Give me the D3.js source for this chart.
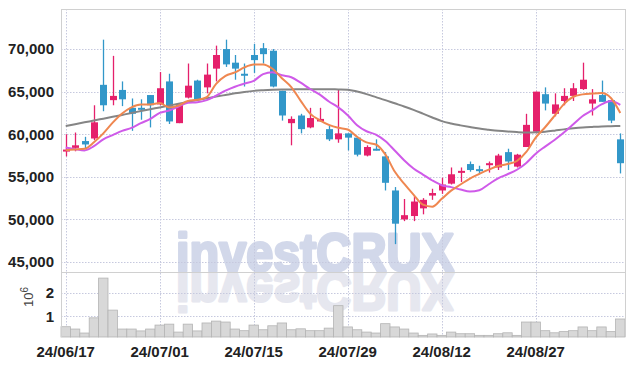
<!DOCTYPE html>
<html><head><meta charset="utf-8">
<script src="https://cdn.jsdelivr.net/npm/d3@7"></script>
<style>
body{margin:0;background:#fff}
svg{display:block}
text{font-family:"Liberation Sans Narrow","Liberation Sans",Arial,sans-serif}
</style>
</head><body>
<svg id="chart" width="634" height="366"></svg>
<script>
// ---- data ----
const dates = [
  "24/06/17","24/06/18","24/06/19","24/06/20","24/06/21","24/06/24","24/06/25","24/06/26","24/06/27","24/06/28",
  "24/07/01","24/07/02","24/07/03","24/07/04","24/07/05","24/07/08","24/07/09","24/07/10","24/07/11","24/07/12",
  "24/07/15","24/07/16","24/07/17","24/07/18","24/07/19","24/07/22","24/07/23","24/07/24","24/07/25","24/07/26",
  "24/07/29","24/07/30","24/07/31","24/08/01","24/08/02","24/08/05","24/08/06","24/08/07","24/08/08","24/08/09",
  "24/08/12","24/08/13","24/08/14","24/08/16","24/08/19","24/08/20","24/08/21","24/08/22","24/08/23","24/08/26",
  "24/08/27","24/08/28","24/08/29","24/08/30","24/09/02","24/09/03","24/09/04","24/09/05","24/09/06","24/09/09"
];
const open = [
  58100,58400,59200,59500,65800,64000,65200,63100,63100,64600,
  63500,66200,61300,64300,66300,65500,67700,70000,68400,67100,
  69300,70100,69800,65100,61300,62200,60800,61500,60600,59400,
  60100,59600,57500,58300,57400,53400,50000,50400,51300,52800,
  53400,54200,55500,56500,55900,56400,56100,57900,56200,58500,
  60300,64700,62400,63900,64500,65300,63600,64600,64000,59400
];
const high = [
  60000,60200,59700,63400,71100,69200,66200,64200,64100,64600,
  67300,67100,63600,68300,66400,68300,70400,71100,69300,68300,
  70600,70700,70000,65100,62100,62400,63100,63100,61100,65300,
  60100,59700,58700,59400,57900,53800,52400,52700,52500,53600,
  54900,56100,56100,56800,56300,56800,57700,58300,57700,62400,
  65000,65500,64800,65400,66000,68400,65300,66300,64000,60100
];
const low = [
  57400,58000,58300,59300,62700,63400,63300,60400,61700,60800,
  63400,61200,61300,64200,64000,64800,66200,67900,66400,65600,
  67200,68300,65500,61600,58700,60100,60700,61500,59200,59000,
  58100,57400,57400,58100,53400,47100,49800,49800,50600,52300,
  53000,54100,54400,55600,55300,55500,55800,55800,56100,58500,
  60100,62800,62100,63400,63900,65200,62200,63800,61300,55400
];
const close = [
  58200,58700,58800,61400,63400,64500,64100,62400,63000,63400,
  65400,61500,63500,65700,64100,67000,69300,68200,67700,67000,
  68700,69400,65600,62200,61800,60600,61900,61800,59400,60100,
  59600,57600,58500,58200,54300,49500,50500,52100,52300,53100,
  54100,55300,55700,55800,55800,56600,57500,56800,57600,61100,
  65000,63600,63500,64500,65400,66400,64100,63800,61600,56600
];
const volume = [
  560000,460000,290000,940000,2640000,1270000,460000,460000,380000,460000,
  630000,670000,330000,670000,380000,720000,800000,760000,460000,390000,
  630000,430000,600000,720000,430000,470000,390000,390000,500000,1460000,
  550000,430000,330000,290000,690000,550000,460000,290000,190000,250000,
  190000,330000,260000,260000,190000,190000,260000,300000,190000,760000,
  760000,390000,300000,350000,390000,550000,390000,550000,350000,890000
];
// 5-day moving average (orange)
const ma5 = [
  58130,58210,58290,59050,60100,61360,62440,63160,63480,63480,
  63660,63140,63360,63900,64040,64360,65920,66860,67260,67840,
  68180,68200,67680,66580,65540,63920,62420,61660,61100,60760,
  60560,59700,59040,58800,57640,55620,54200,52920,51740,51500,
  52420,53380,54100,54800,55340,55840,56280,56500,56860,57920,
  59600,60820,62160,63540,64400,64680,64780,64840,64260,62500
];
// 10-day moving average (purple)
const ma10 = [
  58450,58250,58100,58600,59400,59900,60400,60750,61300,61790,
  62510,62790,63260,63690,63760,64010,64530,65110,65580,65940,
  66270,67060,67270,66920,66690,66050,65310,64670,63840,63150,
  62240,61060,60350,59950,59200,58090,56950,55980,55270,54570,
  54020,53790,53510,53270,53420,54130,54830,55300,55830,56630,
  57720,58550,59330,60200,61160,62140,62800,63500,63900,63450
];
// long moving average (gray)
const maLong = [
  60950,61180,61400,61610,61830,62050,62270,62490,62720,62930,
  63150,63360,63580,63810,64020,64220,64420,64610,64800,64960,
  65090,65160,65210,65240,65260,65280,65290,65290,65280,65260,
  65230,65010,64710,64360,64010,63630,63260,62860,62420,61970,
  61540,61260,61040,60840,60660,60530,60410,60320,60250,60210,
  60220,60290,60420,60570,60690,60790,60860,60920,60950,60980
];
const priceTicks = [45000,50000,55000,60000,65000,70000];
const volumeTicks = [1000000,2000000];
const dateTicks = ["24/06/17","24/07/01","24/07/15","24/07/29","24/08/12","24/08/27"];

// ---- drawing ----
const svg = d3.select("#chart");
const L = 61, R = 625, T = 9, MID = 272, B = 337;
const UP = "#e5206b", DOWN = "#3297c9", GRID = "#c6c9de";

const x = d3.scaleBand().domain(dates).range([L, R]).padding(0);
const bw = x.bandwidth();
const cx = d => x(d) + bw / 2;
const y = d3.scaleLinear().domain([43830, 74700]).range([MID, T]);
const yv = d3.scaleLinear().domain([120000, 2900000]).range([B, MID]);

// watermark (with mirrored reflection drawn as a <use> copy)
const defs = svg.append("defs");
defs.append("text").attr("id", "wmText").attr("x", 176).attr("y", MID - 1)
  .attr("textLength", 278).attr("lengthAdjust", "spacingAndGlyphs")
  .style("font-family", "'Liberation Sans Narrow','Liberation Sans',Arial,sans-serif").style("font-weight", "bold")
  .style("font-size", "54px").attr("stroke-width", 3).attr("stroke-linejoin", "round")
  .text("investCRUX");
const wm = svg.append("g");
wm.append("use").attr("href", "#wmText")
  .attr("transform", `translate(0,${2 * MID}) scale(1,-1)`)
  .attr("fill", "#e6e7ef").attr("stroke", "#e6e7ef");
wm.append("use").attr("href", "#wmText").attr("fill", "#d2d8ea").attr("stroke", "#d2d8ea");

// grid
const grid = svg.append("g").attr("stroke", GRID).attr("stroke-width", 1).attr("stroke-dasharray", "1.5,1.5");
grid.selectAll(".gy").data(priceTicks).join("line")
  .attr("x1", L).attr("x2", R).attr("y1", d => Math.round(y(d)) + 0.5).attr("y2", d => Math.round(y(d)) + 0.5);
grid.selectAll(".gv").data(volumeTicks).join("line")
  .attr("x1", L).attr("x2", R).attr("y1", d => Math.round(yv(d)) + 0.5).attr("y2", d => Math.round(yv(d)) + 0.5);
grid.selectAll(".gx").data(dateTicks).join("line")
  .attr("x1", d => Math.round(cx(d)) + 0.5).attr("x2", d => Math.round(cx(d)) + 0.5).attr("y1", T).attr("y2", B);

// volume bars
svg.append("g").selectAll("rect").data(dates).join("rect")
  .attr("x", d => x(d)).attr("width", bw)
  .attr("y", (d, i) => yv(volume[i])).attr("height", (d, i) => B - yv(volume[i]))
  .attr("fill", "#d8d8d8").attr("stroke", "#b4b4b4").attr("stroke-width", 0.8);

// frame
const fr = svg.append("g").attr("stroke", "#d0d0d0").attr("stroke-width", 1);
fr.append("line").attr("x1", L).attr("x2", R).attr("y1", T + 0.5).attr("y2", T + 0.5);
fr.append("line").attr("x1", L + 0.5).attr("x2", L + 0.5).attr("y1", T).attr("y2", B);
fr.append("line").attr("x1", R + 0.5).attr("x2", R + 0.5).attr("y1", T).attr("y2", B);
fr.append("line").attr("x1", L).attr("x2", R).attr("y1", MID + 0.5).attr("y2", MID + 0.5);

// candles
const cg = svg.append("g");
const bodyW = 7;
dates.forEach((d, i) => {
  const col = close[i] >= open[i] ? UP : DOWN;
  const xc = Math.round(cx(d)) + 0.5;
  cg.append("line").attr("x1", xc).attr("x2", xc).attr("y1", y(high[i])).attr("y2", y(low[i]))
    .attr("stroke", col).attr("stroke-width", 1.3);
  const top = y(Math.max(open[i], close[i])), bot = y(Math.min(open[i], close[i]));
  cg.append("rect").attr("x", xc - bodyW / 2).attr("width", bodyW)
    .attr("y", top).attr("height", Math.max(2, bot - top)).attr("fill", col);
});

// moving averages
const lineGen = arr => d3.line().x((d, i) => cx(dates[i])).y(d => y(d)).curve(d3.curveMonotoneX)(arr);
svg.append("path").attr("d", lineGen(maLong)).attr("fill", "none").attr("stroke", "#858585").attr("stroke-width", 2);
svg.append("path").attr("d", lineGen(ma10)).attr("fill", "none").attr("stroke", "#cf5ae9").attr("stroke-width", 2);
svg.append("path").attr("d", lineGen(ma5)).attr("fill", "none").attr("stroke", "#ef8750").attr("stroke-width", 2);

// axes
const yAxis = d3.axisLeft(y).tickValues(priceTicks).tickSize(0).tickPadding(7).tickFormat(d3.format(","));
const ga = svg.append("g").attr("transform", `translate(${L},0)`).call(yAxis);
const yvAxis = d3.axisLeft(yv).tickValues(volumeTicks).tickSize(0).tickPadding(7).tickFormat(d => d / 1e6);
const gv = svg.append("g").attr("transform", `translate(${L},0)`).call(yvAxis);
const xAxis = d3.axisBottom(x).tickValues(dateTicks).tickSize(0).tickPadding(9);
const gx = svg.append("g").attr("transform", `translate(0,${B})`).call(xAxis);
[ga, gv, gx].forEach(g => {
  g.select(".domain").remove();
  g.selectAll("text").style("font-family", "'Liberation Sans Narrow','Liberation Sans',sans-serif")
    .style("font-weight", "bold").style("font-size", "15px").attr("fill", "#222");
});

// 10^6 label
const lab = svg.append("text").attr("transform", "translate(33,307) rotate(-90)")
  .style("font-family", "'Liberation Sans',sans-serif").style("font-size", "13px").attr("fill", "#444");
lab.append("tspan").text("10");
lab.append("tspan").attr("dy", -5).style("font-size", "10px").text("6");
</script>
</body></html>
